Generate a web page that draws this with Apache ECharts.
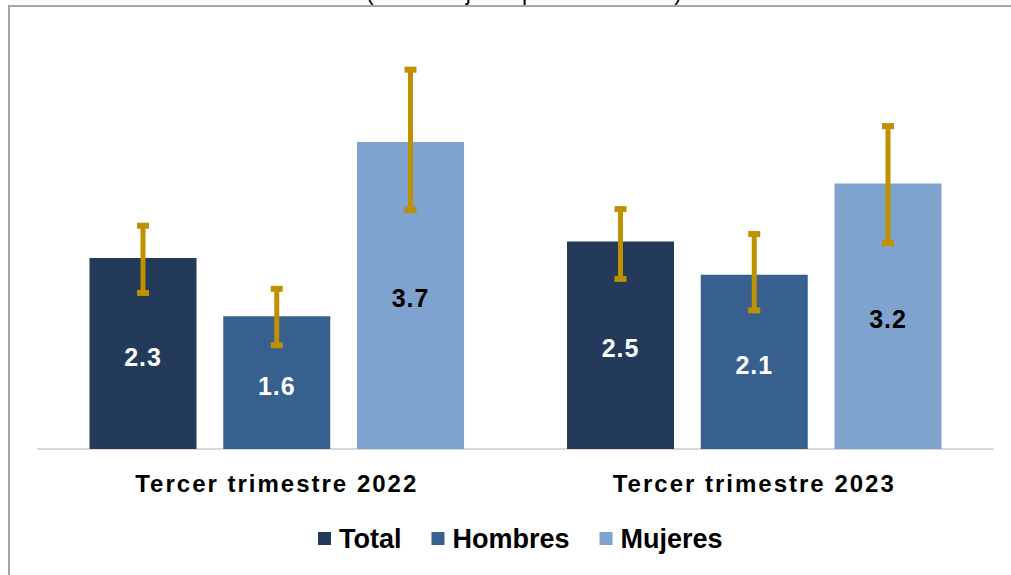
<!DOCTYPE html>
<html>
<head>
<meta charset="utf-8">
<script src="https://cdn.jsdelivr.net/npm/echarts@6/dist/echarts.min.js"></script>
<style>
  html, body { margin: 0; padding: 0; background: #fff; }
  #chart { width: 1011px; height: 575px; }
  /* las etiquetas del eje vienen con letras espaciadas */
  #chart text[style*="24px"] { letter-spacing: 2px; }
  #chart text[style*="25px"] { letter-spacing: 1px; }
</style>
</head>
<body>
<div id="chart"></div>
<script>
const categorias = ['Tercer trimestre 2022', 'Tercer trimestre 2023'];
const nombres = ['Total', 'Hombres', 'Mujeres'];
const total = [2.3, 2.5];
const hombres = [1.6, 2.1];
const mujeres = [3.7, 3.2];
// intervalos de confianza (inferior / superior)
const totalInf = [1.88, 2.05];
const totalSup = [2.69, 2.89];
const hombresInf = [1.25, 1.67];
const hombresSup = [1.93, 2.59];
const mujeresInf = [2.88, 2.48];
const mujeresSup = [4.57, 3.89];

const colores = ['#233A5B', '#38608F', '#7EA3CF'];
const ANCHO = 107;   // ancho de barra
const DORADO = '#BF9000';

const chart = echarts.init(document.getElementById('chart'), null, { renderer: 'svg' });

const barra = (idx, datos, colorTexto) => ({
  name: nombres[idx],
  type: 'bar',
  data: datos,
  barWidth: ANCHO,
  barGap: '25%',
  itemStyle: { color: colores[idx] },
  label: {
    show: true,
    position: 'inside',
    offset: [0, 3],
    formatter: (p) => p.value.toFixed(1),
    color: colorTexto,
    fontFamily: 'Liberation Sans',
    fontWeight: 'bold',
    fontSize: 25
  }
});

const error = (idx, inf, sup) => ({
  name: nombres[idx] + ' IC',
  type: 'custom',
  z: 10,
  data: inf.map((v, i) => [i, v, sup[i]]),
  encode: { x: 0, y: [1, 2] },
  renderItem: (params, api) => {
    const lo = api.coord([api.value(0), api.value(1)]);
    const hi = api.coord([api.value(0), api.value(2)]);
    const x = lo[0] + (idx - 1) * ANCHO * 1.25;
    const st = { fill: DORADO };
    return {
      type: 'group',
      children: [
        { type: 'rect', shape: { x: x - 2.5, y: hi[1], width: 5, height: lo[1] - hi[1] }, style: st },
        { type: 'rect', shape: { x: x - 6, y: hi[1] - 3, width: 12, height: 6 }, style: st },
        { type: 'rect', shape: { x: x - 6, y: lo[1] - 3, width: 12, height: 6 }, style: st }
      ]
    };
  }
});

const option = {
  animation: false,
  backgroundColor: '#fff',
  graphic: [
    {
      type: 'rect',
      silent: true,
      z: -10,
      shape: { x: 9, y: 6, width: 1100, height: 700 },
      style: { fill: 'none', stroke: '#A6A6A6', lineWidth: 2 }
    },
    {
      type: 'text',
      silent: true,
      x: 524, y: -8,
      style: {
        text: '(Porcentaje respecto a la PEA)',
        textAlign: 'center',
        textVerticalAlign: 'middle',
        fontFamily: 'Liberation Sans',
        fontSize: 23,
        fill: '#000'
      }
    }
  ],
  grid: { left: 38, right: 18, top: 34, bottom: 126 },
  legend: {
    data: nombres,
    left: 318,
    top: 525,
    padding: 0,
    icon: 'rect',
    itemWidth: 13,
    itemHeight: 13,
    itemGap: 30,
    textStyle: {
      fontFamily: 'Liberation Sans',
      fontWeight: 'bold',
      fontSize: 27,
      padding: [0, 0, 0, 3],
      color: '#000'
    }
  },
  xAxis: {
    type: 'category',
    data: categorias,
    axisTick: { show: false },
    axisLine: { lineStyle: { color: '#D9D9D9', width: 2 } },
    axisLabel: {
      margin: 22,
      color: '#000',
      fontFamily: 'Liberation Sans',
      fontWeight: 'bold',
      fontSize: 24
    }
  },
  yAxis: {
    type: 'value',
    min: 0,
    max: 5,
    show: false,
    splitLine: { show: false }
  },
  series: [
    barra(0, total, '#fff'),
    barra(1, hombres, '#fff'),
    barra(2, mujeres, '#000'),
    error(0, totalInf, totalSup),
    error(1, hombresInf, hombresSup),
    error(2, mujeresInf, mujeresSup)
  ]
};

chart.setOption(option);
</script>
</body>
</html>
